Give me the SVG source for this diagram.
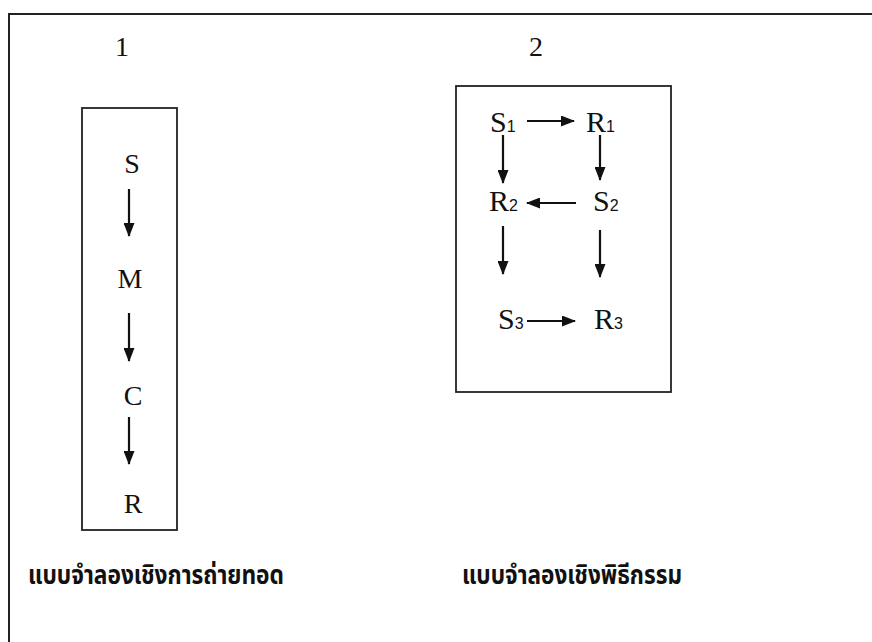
<svg xmlns="http://www.w3.org/2000/svg" width="872" height="642" viewBox="0 0 872 642">
<defs>
<marker id="ah" viewBox="0 0 14 11" refX="13" refY="5.5" markerWidth="14" markerHeight="11" markerUnits="userSpaceOnUse" orient="auto">
<path d="M0,0 L14,5.5 L0,11 z" fill="#111"/>
</marker>
<style>
.frame{fill:none;stroke:#222;stroke-width:2}
.box{fill:none;stroke:#222;stroke-width:1.8}
.t{font-family:"Liberation Serif","Times New Roman",serif;font-size:28px;fill:#111}
.t2{font-family:"Liberation Serif","Times New Roman",serif;font-size:30px;fill:#111}
.sub{font-family:"Liberation Sans",Arial,sans-serif;font-size:16px;fill:#111}
.num{font-family:"Liberation Serif","Times New Roman",serif;font-size:28px;fill:#111}
.th{font-family:"Noto Sans Thai","Loma","Garuda","Tlwg Typo","DejaVu Sans","Noto Sans",sans-serif;font-size:26px;font-weight:bold;fill:#111}
.c{stroke:#111;stroke-width:2.2;fill:none;marker-end:url(#ah)}
</style>
</defs>
<rect width="872" height="642" fill="#fff"/>
<path class="frame" d="M9,660 L9,14 L880,14"/>
<text class="num" x="115" y="56">1</text>
<text class="num" x="529" y="56">2</text>
<g id="model1">
<rect class="box" x="82" y="108" width="95" height="422"/>
<g id="n-S"><text class="t" x="132" y="173" text-anchor="middle">S</text></g>
<g id="n-M"><text class="t" x="130" y="288" text-anchor="middle">M</text></g>
<g id="n-C"><text class="t" x="133" y="405" text-anchor="middle">C</text></g>
<g id="n-R"><text class="t" x="133" y="513" text-anchor="middle">R</text></g>
</g>
<g id="model2">
<rect class="box" x="456" y="86" width="215" height="306"/>
<g id="n-S1"><text x="490" y="132"><tspan class="t2">S</tspan><tspan class="sub">1</tspan></text></g>
<g id="n-R1"><text x="586" y="132"><tspan class="t2">R</tspan><tspan class="sub">1</tspan></text></g>
<g id="n-R2"><text x="489" y="211"><tspan class="t2">R</tspan><tspan class="sub">2</tspan></text></g>
<g id="n-S2"><text x="593" y="211"><tspan class="t2">S</tspan><tspan class="sub">2</tspan></text></g>
<g id="n-S3"><text x="498" y="329"><tspan class="t2">S</tspan><tspan class="sub">3</tspan></text></g>
<g id="n-R3"><text x="594" y="329"><tspan class="t2">R</tspan><tspan class="sub">3</tspan></text></g>
</g>
<g id="connectors">
<line class="c" x1="129" y1="189" x2="129" y2="236"/>
<line class="c" x1="129" y1="313" x2="129" y2="361"/>
<line class="c" x1="129" y1="417" x2="129" y2="464"/>
<line class="c" x1="527" y1="121" x2="574" y2="121"/>
<line class="c" x1="503" y1="135" x2="503" y2="183"/>
<line class="c" x1="600" y1="135" x2="600" y2="180"/>
<line class="c" x1="576" y1="203" x2="527" y2="203"/>
<line class="c" x1="503" y1="226" x2="503" y2="274"/>
<line class="c" x1="600" y1="230" x2="600" y2="277"/>
<line class="c" x1="527" y1="321" x2="575" y2="321"/>
</g>
<g id="captions">
<text class="th" x="28" y="584" textLength="256" lengthAdjust="spacingAndGlyphs">แบบจำลองเชิงการถ่ายทอด</text>
<text class="th" x="462" y="584" textLength="220" lengthAdjust="spacingAndGlyphs">แบบจำลองเชิงพิธีกรรม</text>
</g>
</svg>
